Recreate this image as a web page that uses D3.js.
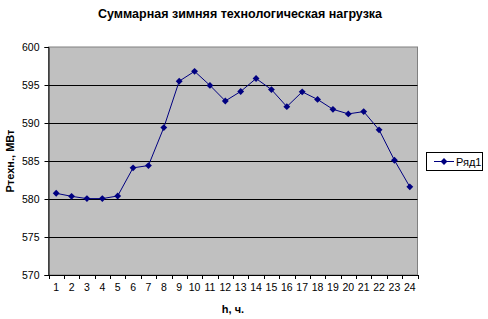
<!DOCTYPE html>
<html><head><meta charset="utf-8">
<script src="https://cdn.jsdelivr.net/npm/d3@7"></script>
<style>
html,body{margin:0;padding:0;background:#fff;}
svg{display:block;font-family:"Liberation Sans",Arial,sans-serif;}
</style></head>
<body>
<svg id="c" width="488" height="319"></svg>
<script>
const hours = ["1","2","3","4","5","6","7","8","9","10","11","12","13","14","15","16","17","18","19","20","21","22","23","24"];
const values = [580.75,580.35,580.05,580.05,580.4,584.1,584.4,589.4,595.5,596.8,594.95,592.9,594.15,595.85,594.4,592.15,594.1,593.1,591.8,591.2,591.5,589.1,585.1,581.6];
const yTicks = [570,575,580,585,590,595,600];
const title = "Суммарная зимняя технологическая нагрузка";
const xTitle = "h, ч.";
const yTitle = "Ртехн., МВт";
const seriesName = "Ряд1";

const svg = d3.select("#c");
const L = 48.5, R = 417.5, T = 47, B = 275;
const x = d3.scaleBand().domain(hours).range([L, R]).padding(0);
const y = d3.scaleLinear().domain([570, 600]).range([B, T]);

// plot background
svg.append("rect").attr("x", L).attr("y", T).attr("width", R - L).attr("height", B - T)
  .attr("fill", "#c0c0c0").attr("stroke", "#808080").attr("stroke-width", 1);

// gridlines
svg.append("g").selectAll("line").data(yTicks.filter(d => d > 570 && d < 600)).join("line")
  .attr("x1", L).attr("x2", R)
  .attr("y1", d => Math.round(y(d)) + 0.5).attr("y2", d => Math.round(y(d)) + 0.5)
  .attr("stroke", "#000").attr("stroke-width", 1);

// y axis
const yAxis = d3.axisLeft(y).tickValues(yTicks).tickSize(4).tickPadding(5);
const gy = svg.append("g").attr("transform", `translate(${L},0)`).call(yAxis);
gy.select(".domain").attr("stroke", "#000");
gy.selectAll(".tick line").attr("stroke", "#000");
gy.selectAll("text").attr("font-size", 10.5).attr("fill", "#000")
  .attr("font-family", "Liberation Sans, Arial, sans-serif");

// x axis
const xAxis = d3.axisBottom(x).tickSize(0).tickPadding(9);
const gx = svg.append("g").attr("transform", `translate(0,${B})`).call(xAxis);
gx.select(".domain").attr("stroke", "#000");
gx.selectAll("text").attr("font-size", 10.5).attr("fill", "#000")
  .attr("font-family", "Liberation Sans, Arial, sans-serif");
// boundary ticks
const bounds = hours.map(h => x(h)).concat([x(hours[hours.length - 1]) + x.bandwidth()]);
svg.append("g").selectAll("line").data(bounds).join("line")
  .attr("x1", d => Math.round(d) + 0.5).attr("x2", d => Math.round(d) + 0.5)
  .attr("y1", B).attr("y2", B + 4).attr("stroke", "#000");

// line
const cx = d => x(d) + x.bandwidth() / 2;
const line = d3.line().x((d, i) => cx(hours[i])).y(d => y(d));
svg.append("path").datum(values).attr("d", line)
  .attr("fill", "none").attr("stroke", "#000080").attr("stroke-width", 1);
const diamond = d3.symbol().type(d3.symbolDiamond2).size(30);
svg.append("g").selectAll("path").data(values).join("path")
  .attr("d", diamond)
  .attr("transform", (d, i) => `translate(${cx(hours[i])},${y(d)})`)
  .attr("fill", "#000080");

// title
svg.append("text").attr("x", 240).attr("y", 18).attr("text-anchor", "middle")
  .attr("font-size", 12.5).attr("font-weight", "bold").text(title);
svg.append("text").attr("x", 233).attr("y", 313).attr("text-anchor", "middle")
  .attr("font-size", 11).attr("font-weight", "bold").text(xTitle);
svg.append("text").attr("transform", `translate(14,${(T + B) / 2}) rotate(-90)`)
  .attr("text-anchor", "middle").attr("font-size", 11).attr("font-weight", "bold").text(yTitle);

// legend
const lg = svg.append("g");
lg.append("rect").attr("x", 426.5).attr("y", 152.5).attr("width", 56).attr("height", 18)
  .attr("fill", "#fff").attr("stroke", "#000");
lg.append("line").attr("x1", 434).attr("x2", 454).attr("y1", 161.5).attr("y2", 161.5)
  .attr("stroke", "#000080");
lg.append("path").attr("d", diamond).attr("transform", "translate(444,161.5)").attr("fill", "#000080");
lg.append("text").attr("x", 456).attr("y", 165.5).attr("font-size", 11).text(seriesName);
</script>
</body></html>
